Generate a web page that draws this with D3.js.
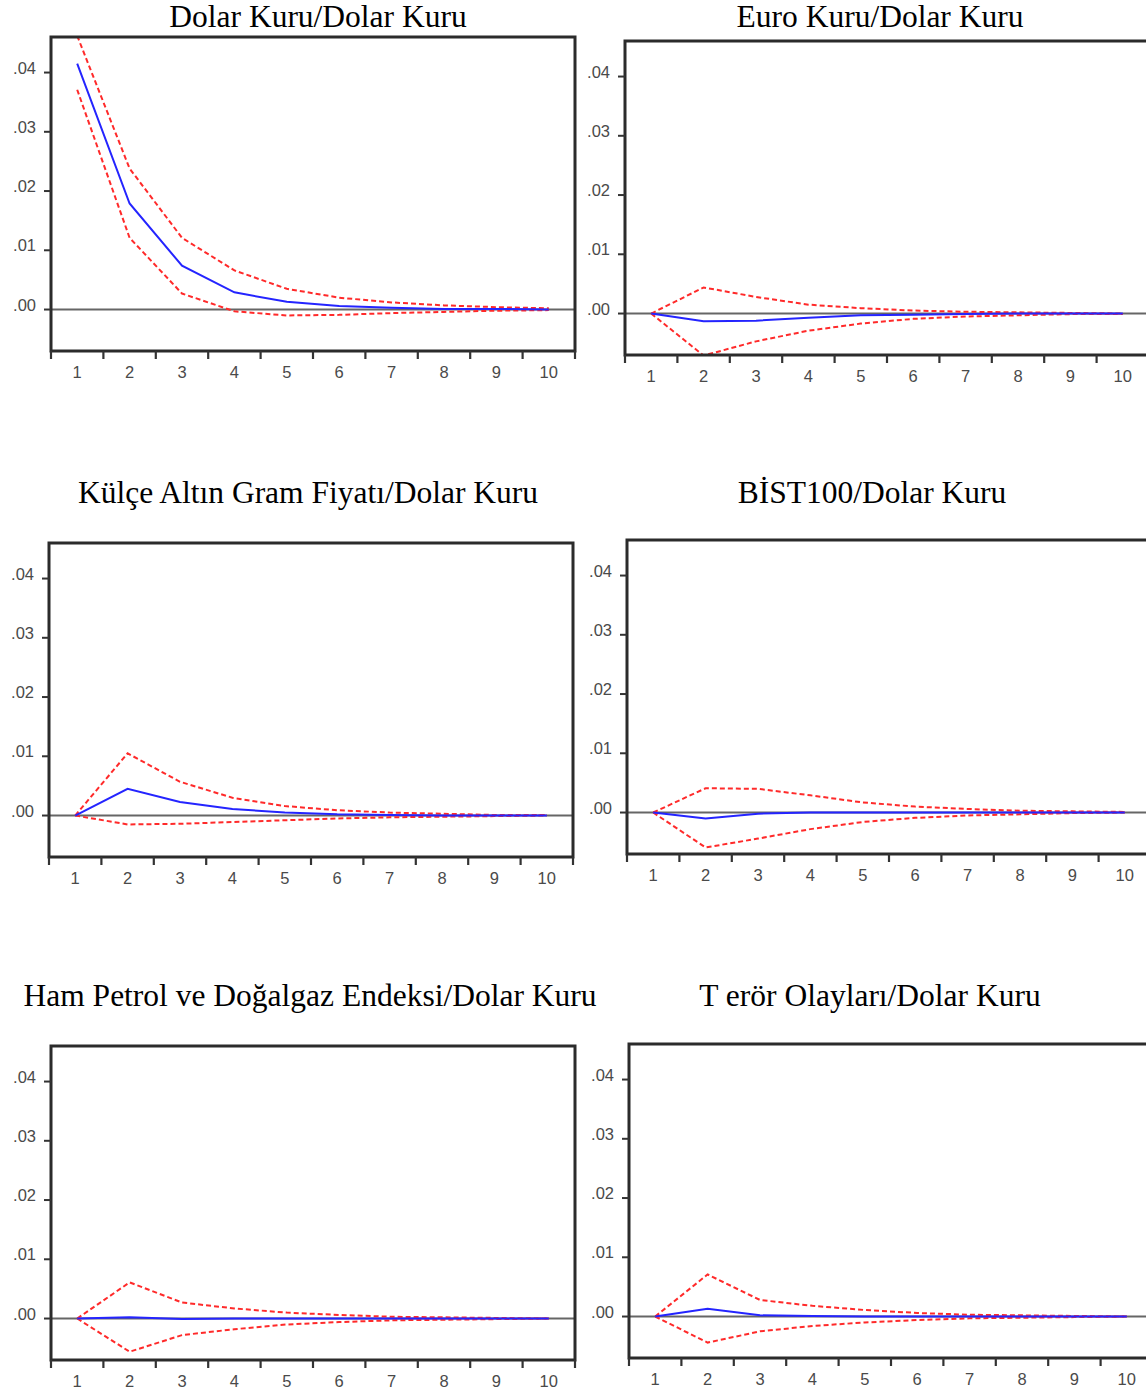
<!DOCTYPE html>
<html>
<head>
<meta charset="utf-8">
<script src="https://cdn.jsdelivr.net/npm/d3@7"></script>
<style>
  body { margin: 0; background: #fff; }
  svg { display: block; }
</style>
</head>
<body>
<div id="chart"></div>
<script>
const W = 1146
const H = 1389

// horizons 1..10
const periods = ["1", "2", "3", "4", "5", "6", "7", "8", "9", "10"]
const yTicks = [0, 0.01, 0.02, 0.03, 0.04]
const yTickLabels = [".00", ".01", ".02", ".03", ".04"]

const titles = [
  "Dolar Kuru/Dolar Kuru",
  "Euro Kuru/Dolar Kuru",
  "Külçe Altın Gram Fiyatı/Dolar Kuru",
  "BİST100/Dolar Kuru",
  "Ham Petrol ve Doğalgaz Endeksi/Dolar Kuru",
  "T erör Olayları/Dolar Kuru"
]

// impulse responses (blue) and +/- 2 s.e. bands (red dashed)
const dolarResp  = [0.0415, 0.0179, 0.0074, 0.0029, 0.0013, 0.0006, 0.0003, 0.0001, 0.0001, 0.0000]
const dolarUp    = [0.0462, 0.0238, 0.0121, 0.0066, 0.0035, 0.0020, 0.0012, 0.0007, 0.0004, 0.0002]
const dolarLo    = [0.0371, 0.0121, 0.0027, -0.0003, -0.0010, -0.0009, -0.0006, -0.0004, -0.0002, -0.0001]

const euroResp   = [0, -0.0013, -0.0012, -0.0007, -0.0003, -0.0002, -0.0001, 0, 0, 0]
const euroUp     = [0, 0.0044, 0.0028, 0.0015, 0.0009, 0.0005, 0.0003, 0.0002, 0.0001, 0.0000]
const euroLo     = [0, -0.0071, -0.0047, -0.0029, -0.0017, -0.0009, -0.0005, -0.0003, -0.0001, -0.0001]

const altinResp  = [0, 0.0045, 0.0023, 0.0011, 0.0005, 0.0002, 0.0001, 0, 0, 0]
const altinUp    = [0, 0.0105, 0.0057, 0.0030, 0.0016, 0.0009, 0.0005, 0.0003, 0.0001, 0.0001]
const altinLo    = [0, -0.0015, -0.0014, -0.0011, -0.0008, -0.0005, -0.0003, -0.0002, -0.0001, 0]

const bistResp   = [0, -0.0010, -0.0002, 0, 0, 0, 0, 0, 0, 0]
const bistUp     = [0, 0.0041, 0.0040, 0.0029, 0.0017, 0.0010, 0.0006, 0.0003, 0.0002, 0.0001]
const bistLo     = [0, -0.0059, -0.0044, -0.0028, -0.0016, -0.0009, -0.0005, -0.0003, -0.0001, 0]

const petrolResp = [0, 0.0002, -0.0001, 0, 0, 0, 0, 0, 0, 0]
const petrolUp   = [0, 0.0061, 0.0027, 0.0017, 0.0010, 0.0006, 0.0003, 0.0002, 0.0001, 0]
const petrolLo   = [0, -0.0056, -0.0028, -0.0018, -0.0010, -0.0006, -0.0003, -0.0002, -0.0001, 0]

const terorResp  = [0, 0.0013, 0.0002, 0.0001, 0, 0, 0, 0, 0, 0]
const terorUp    = [0, 0.0071, 0.0028, 0.0018, 0.0011, 0.0006, 0.0003, 0.0002, 0.0001, 0]
const terorLo    = [0, -0.0044, -0.0025, -0.0016, -0.0010, -0.0006, -0.0003, -0.0002, -0.0001, 0]

const seriesList = [
  [dolarResp, dolarUp, dolarLo],
  [euroResp, euroUp, euroLo],
  [altinResp, altinUp, altinLo],
  [bistResp, bistUp, bistLo],
  [petrolResp, petrolUp, petrolLo],
  [terorResp, terorUp, terorLo]
]

// frame placement of each panel (left, top) and title anchor
const layout = [
  { x: 51,  y: 37,   tx: 318, ty: 27 },
  { x: 625, y: 41,   tx: 880, ty: 27 },
  { x: 49,  y: 543,  tx: 308, ty: 503 },
  { x: 627, y: 540,  tx: 872, ty: 503 },
  { x: 51,  y: 1046, tx: 310, ty: 1006 },
  { x: 629, y: 1044, tx: 870, ty: 1006 }
]
const pw = 524
const ph = 314

const svg = d3.select("#chart")
  .append("svg")
    .attr("width", W)
    .attr("height", H)

const xScale = d3.scaleBand().domain(periods).range([0, pw])
const yScale = d3.scaleLinear().domain([-0.007, 0.046]).range([ph, 0])

svg.append("defs").append("clipPath")
    .attr("id", "plot-clip")
  .append("rect")
    .attr("width", pw)
    .attr("height", ph)

const line = d3.line()
  .x((d, i) => xScale(periods[i]) + xScale.bandwidth() / 2)
  .y(d => yScale(d))

layout.forEach((p, k) => {
  // title
  svg.append("text")
    .attr("x", p.tx)
    .attr("y", p.ty)
    .attr("text-anchor", "middle")
    .attr("font-family", "'Liberation Serif', 'Times New Roman', serif")
    .attr("font-size", 31.5)
    .attr("fill", "#000")
    .text(titles[k])

  const g = svg.append("g").attr("transform", `translate(${p.x},${p.y})`)

  // zero line
  g.append("line")
    .attr("x1", 0).attr("x2", pw)
    .attr("y1", yScale(0)).attr("y2", yScale(0))
    .attr("stroke", "#666")
    .attr("stroke-width", 2)

  const [resp, up, lo] = seriesList[k]
  const plot = g.append("g").attr("clip-path", "url(#plot-clip)")

  ;[up, lo].forEach(s => {
    plot.append("path")
      .datum(s)
      .attr("d", line)
      .attr("fill", "none")
      .attr("stroke", "#ff2a2a")
      .attr("stroke-width", 2)
      .attr("stroke-dasharray", "5,3")
  })
  plot.append("path")
    .datum(resp)
    .attr("d", line)
    .attr("fill", "none")
    .attr("stroke", "#2424ff")
    .attr("stroke-width", 2)

  // frame
  g.append("rect")
    .attr("width", pw)
    .attr("height", ph)
    .attr("fill", "none")
    .attr("stroke", "#2b2b2b")
    .attr("stroke-width", 3)

  // y ticks
  yTicks.forEach((t, i) => {
    g.append("line")
      .attr("x1", -7).attr("x2", 0)
      .attr("y1", yScale(t)).attr("y2", yScale(t))
      .attr("stroke", "#333")
      .attr("stroke-width", 2)
    g.append("text")
      .attr("x", -15)
      .attr("y", yScale(t) + 1)
      .attr("text-anchor", "end")
      .attr("font-family", "'Liberation Sans', Arial, sans-serif")
      .attr("font-size", 16.5)
      .attr("fill", "#4a4a4a")
      .text(yTickLabels[i])
  })

  // x ticks at band boundaries
  const edges = periods.map(d => xScale(d)).concat([pw])
  edges.forEach(e => {
    g.append("line")
      .attr("x1", e).attr("x2", e)
      .attr("y1", ph).attr("y2", ph + 8)
      .attr("stroke", "#333")
      .attr("stroke-width", 2.2)
  })
  periods.forEach(d => {
    g.append("text")
      .attr("x", xScale(d) + xScale.bandwidth() / 2)
      .attr("y", ph + 27)
      .attr("text-anchor", "middle")
      .attr("font-family", "'Liberation Sans', Arial, sans-serif")
      .attr("font-size", 16.5)
      .attr("fill", "#4a4a4a")
      .text(d)
  })
})
</script>
</body>
</html>
